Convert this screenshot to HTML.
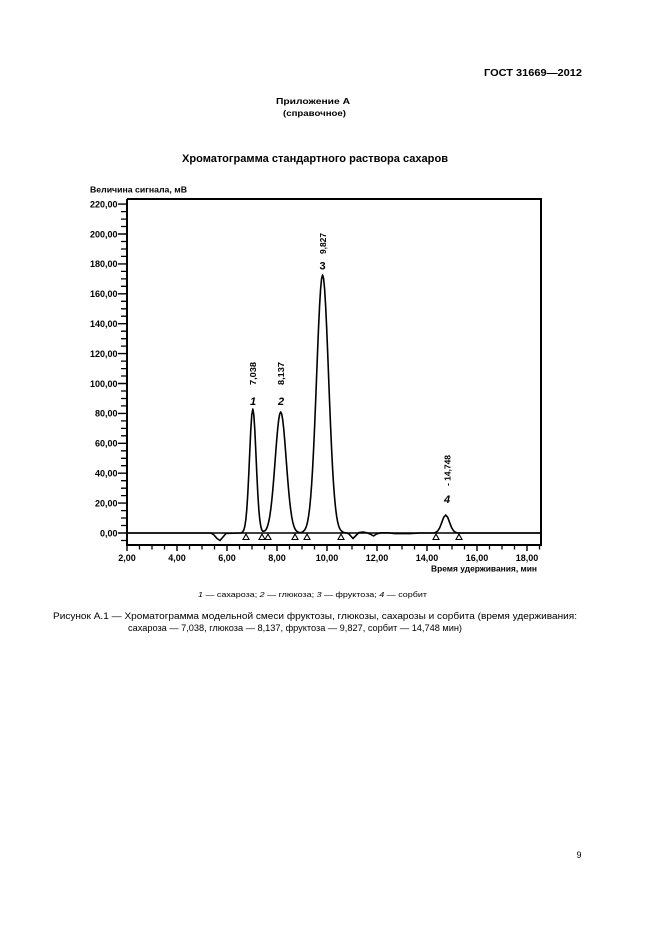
<!DOCTYPE html>
<html><head><meta charset="utf-8"><style>
html,body{margin:0;padding:0;background:#fff;}
svg{display:block;}
text{font-family:"Liberation Sans","Noto Sans CJK SC",sans-serif;fill:#000;}
</style></head><body>
<svg width="661" height="936" viewBox="0 0 661 936" xmlns="http://www.w3.org/2000/svg">
<rect width="661" height="936" fill="#fff"/>
<text x="484" y="76" font-size="10.5" font-weight="bold" textLength="98" lengthAdjust="spacingAndGlyphs">ГОСТ 31669—2012</text>
<text x="276" y="104" font-size="8.5" font-weight="bold" textLength="74" lengthAdjust="spacingAndGlyphs">Приложение А</text>
<text x="283" y="116" font-size="8.5" font-weight="bold" textLength="63" lengthAdjust="spacingAndGlyphs">(справочное)</text>
<text x="182" y="162" font-size="11" font-weight="bold" textLength="266" lengthAdjust="spacingAndGlyphs">Хроматограмма стандартного раствора сахаров</text>

<text x="90" y="192.5" font-size="8.5" font-weight="bold" textLength="97" lengthAdjust="spacingAndGlyphs">Величина сигнала, мВ</text>

<!-- frame -->
<path d="M127,199 H541 V546 M127,199 V546 M126,545 H542" stroke="#000" stroke-width="2" fill="none"/>
<!-- y major ticks -->
<path d="M118,533H127M118,503.1H127M118,473.2H127M118,443.3H127M118,413.4H127M118,383.5H127M118,353.6H127M118,323.7H127M118,293.8H127M118,263.9H127M118,234H127M118,204.1H127" stroke="#000" stroke-width="1.4"/>
<!-- y minor ticks -->
<path d="M121,540.5H127M121,525.5H127M121,518H127M121,510.6H127M121,495.6H127M121,488.2H127M121,480.7H127M121,465.7H127M121,458.3H127M121,450.8H127M121,435.8H127M121,428.4H127M121,420.9H127M121,405.9H127M121,398.5H127M121,391H127M121,376H127M121,368.6H127M121,361.1H127M121,346.1H127M121,338.7H127M121,331.2H127M121,316.2H127M121,308.8H127M121,301.3H127M121,286.3H127M121,278.9H127M121,271.4H127M121,256.4H127M121,249H127M121,241.5H127M121,226.5H127M121,219.1H127M121,211.6H127" stroke="#000" stroke-width="1.3"/>
<!-- x major ticks -->
<path d="M127,545V551M177,545V551M227,545V551M277,545V551M327,545V551M377,545V551M427,545V551M477,545V551M527,545V551" stroke="#000" stroke-width="1.4"/>
<!-- x minor ticks -->
<path d="M139.5,545V549.5M152,545V549.5M164.5,545V549.5M189.5,545V549.5M202,545V549.5M214.5,545V549.5M239.5,545V549.5M252,545V549.5M264.5,545V549.5M289.5,545V549.5M302,545V549.5M314.5,545V549.5M339.5,545V549.5M352,545V549.5M364.5,545V549.5M389.5,545V549.5M402,545V549.5M414.5,545V549.5M439.5,545V549.5M452,545V549.5M464.5,545V549.5M489.5,545V549.5M502,545V549.5M514.5,545V549.5M539.5,545V549.5" stroke="#000" stroke-width="1.3"/>

<!-- y labels -->
<g font-size="9" font-weight="bold" text-anchor="end">
<text x="117.5" y="536.3">0,00</text>
<text x="117.5" y="506.4">20,00</text>
<text x="117.5" y="476.5">40,00</text>
<text x="117.5" y="446.6">60,00</text>
<text x="117.5" y="416.7">80,00</text>
<text x="117.5" y="386.8">100,00</text>
<text x="117.5" y="356.9">120,00</text>
<text x="117.5" y="327">140,00</text>
<text x="117.5" y="297.1">160,00</text>
<text x="117.5" y="267.2">180,00</text>
<text x="117.5" y="237.3">200,00</text>
<text x="117.5" y="207.4">220,00</text>
</g>
<!-- x labels -->
<g font-size="9" font-weight="bold" text-anchor="middle">
<text x="127" y="561">2,00</text>
<text x="177" y="561">4,00</text>
<text x="227" y="561">6,00</text>
<text x="277" y="561">8,00</text>
<text x="327" y="561">10,00</text>
<text x="377" y="561">12,00</text>
<text x="427" y="561">14,00</text>
<text x="477" y="561">16,00</text>
<text x="527" y="561">18,00</text>
</g>
<text x="431" y="571.5" font-size="8.5" font-weight="bold" textLength="106" lengthAdjust="spacingAndGlyphs">Время удерживания, мин</text>

<!-- baseline -->
<path d="M127,533H541" stroke="#000" stroke-width="1.6"/>
<!-- chromatogram -->
<path fill="none" stroke="#000" stroke-width="1.6" stroke-linejoin="round" d="M127,533 L211,533 L214,535 L217,538.5 L220,540.5 L223,537 L226,533.5 L241,533
L241.8,532.5 L242.8,531.7 L243.8,530 L244.8,526.4 L245.8,519.9 L246.8,509.3 L247.8,493.7 L248.8,473.5 L249.8,451 L250.8,429.8 L251.8,414.6 L252.8,409 L253.8,414.6 L254.8,429.8 L255.8,451 L256.8,473.5 L257.8,493.7 L258.8,509.3 L259.8,519.9 L260.8,526.4 L261.8,530 L262.8,531.2 L263.8,531.2
L264.7,530.9 L265.7,530.1 L266.7,528.3 L267.7,525.6 L268.7,521.8 L269.7,516.6 L270.7,509.8 L271.7,501.3 L272.7,491 L273.7,479.2 L274.7,466.3 L275.7,452.9 L276.7,440.1 L277.7,428.7 L278.7,419.7 L279.7,414 L280.7,412 L281.7,414 L282.7,419.7 L283.7,428.7 L284.7,440.1 L285.7,452.9 L286.7,466.3 L287.7,479.2 L288.7,491 L289.7,501.3 L290.7,509.8 L291.7,516.6 L292.7,521.8 L293.7,525.6 L294.7,528.3 L295.7,530.1 L296.7,531.2 L298.7,532.4
L300.6,532.7 L302.6,532 L304.6,530.1 L305.6,528.3 L306.6,525.6 L307.6,521.7 L308.6,516 L309.6,508.3 L310.6,498.1 L311.6,485 L312.6,468.7 L313.6,449.2 L314.6,426.9 L315.6,402.4 L316.6,376.5 L317.6,350.7 L318.6,326.4 L319.6,305.3 L320.6,288.9 L321.6,278.6 L322.6,275 L323.6,278.6 L324.6,288.9 L325.6,305.3 L326.6,326.4 L327.6,350.7 L328.6,376.5 L329.6,402.4 L330.6,426.9 L331.6,449.2 L332.6,468.7 L333.6,485 L334.6,498.1 L335.6,508.3 L336.6,516 L337.6,521.7 L338.6,525.6 L339.6,528.3 L340.6,530.1 L342.6,532 L344.6,532.7
L347,533 L349,534 L353,538.5 L356,535.5 L359,532.5 L363,532 L367,532.8 L371,534.5 L373.5,536 L376.5,534 L381,532.8 L388,532.8 L395,533.6 L410,533.6 L420,533 L434,533
L435.7,532.4 L437.7,531 L439.7,527.8 L441.7,522.7 L443.7,517.3 L445.7,515 L447.7,517.3 L449.7,522.7 L451.7,527.8 L453.7,531 L455.7,532.4 L458,533 L541,533"/>

<!-- baseline markers -->
<path fill="none" stroke="#000" stroke-width="1.1" d="M243,539.5L246,534L249,539.5Z M259,539.5L262,534L265,539.5Z M265,539.5L268,534L271,539.5Z M292,539.5L295,534L298,539.5Z M304,539.5L307,534L310,539.5Z M338,539.5L341,534L344,539.5Z M433,539.5L436,534L439,539.5Z M456,539.5L459,534L462,539.5Z"/>

<!-- peak labels -->
<g font-size="8.5" font-weight="bold">
<text transform="translate(256,385) rotate(-90)" textLength="23" lengthAdjust="spacingAndGlyphs">7,038</text>
<text transform="translate(284,385) rotate(-90)" textLength="23" lengthAdjust="spacingAndGlyphs">8,137</text>
<text transform="translate(326,254) rotate(-90)" textLength="21" lengthAdjust="spacingAndGlyphs">9,827</text>
<text transform="translate(450.5,486) rotate(-90)" textLength="31" lengthAdjust="spacingAndGlyphs">- 14,748</text>
</g>
<g font-size="11" font-weight="bold" text-anchor="middle">
<text x="253" y="405" font-style="italic">1</text>
<text x="281" y="405" font-style="italic">2</text>
<text x="322.5" y="269.5">3</text>
<text x="447" y="503" font-style="italic">4</text>
</g>

<!-- legend -->
<text x="198" y="597" font-size="7.5" textLength="229" lengthAdjust="spacingAndGlyphs"><tspan font-style="italic">1</tspan> — сахароза; <tspan font-style="italic">2</tspan> — глюкоза; <tspan font-style="italic">3</tspan> — фруктоза; <tspan font-style="italic">4</tspan> — сорбит</text>

<!-- caption -->
<text x="53" y="619" font-size="9" textLength="524" lengthAdjust="spacingAndGlyphs">Рисунок  А.1 — Хроматограмма модельной смеси фруктозы, глюкозы, сахарозы и сорбита (время удерживания:</text>
<text x="128" y="631" font-size="9" textLength="334" lengthAdjust="spacingAndGlyphs">сахароза — 7,038, глюкоза — 8,137, фруктоза — 9,827, сорбит — 14,748 мин)</text>

<text x="576.5" y="858" font-size="9">9</text>
</svg>
</body></html>
